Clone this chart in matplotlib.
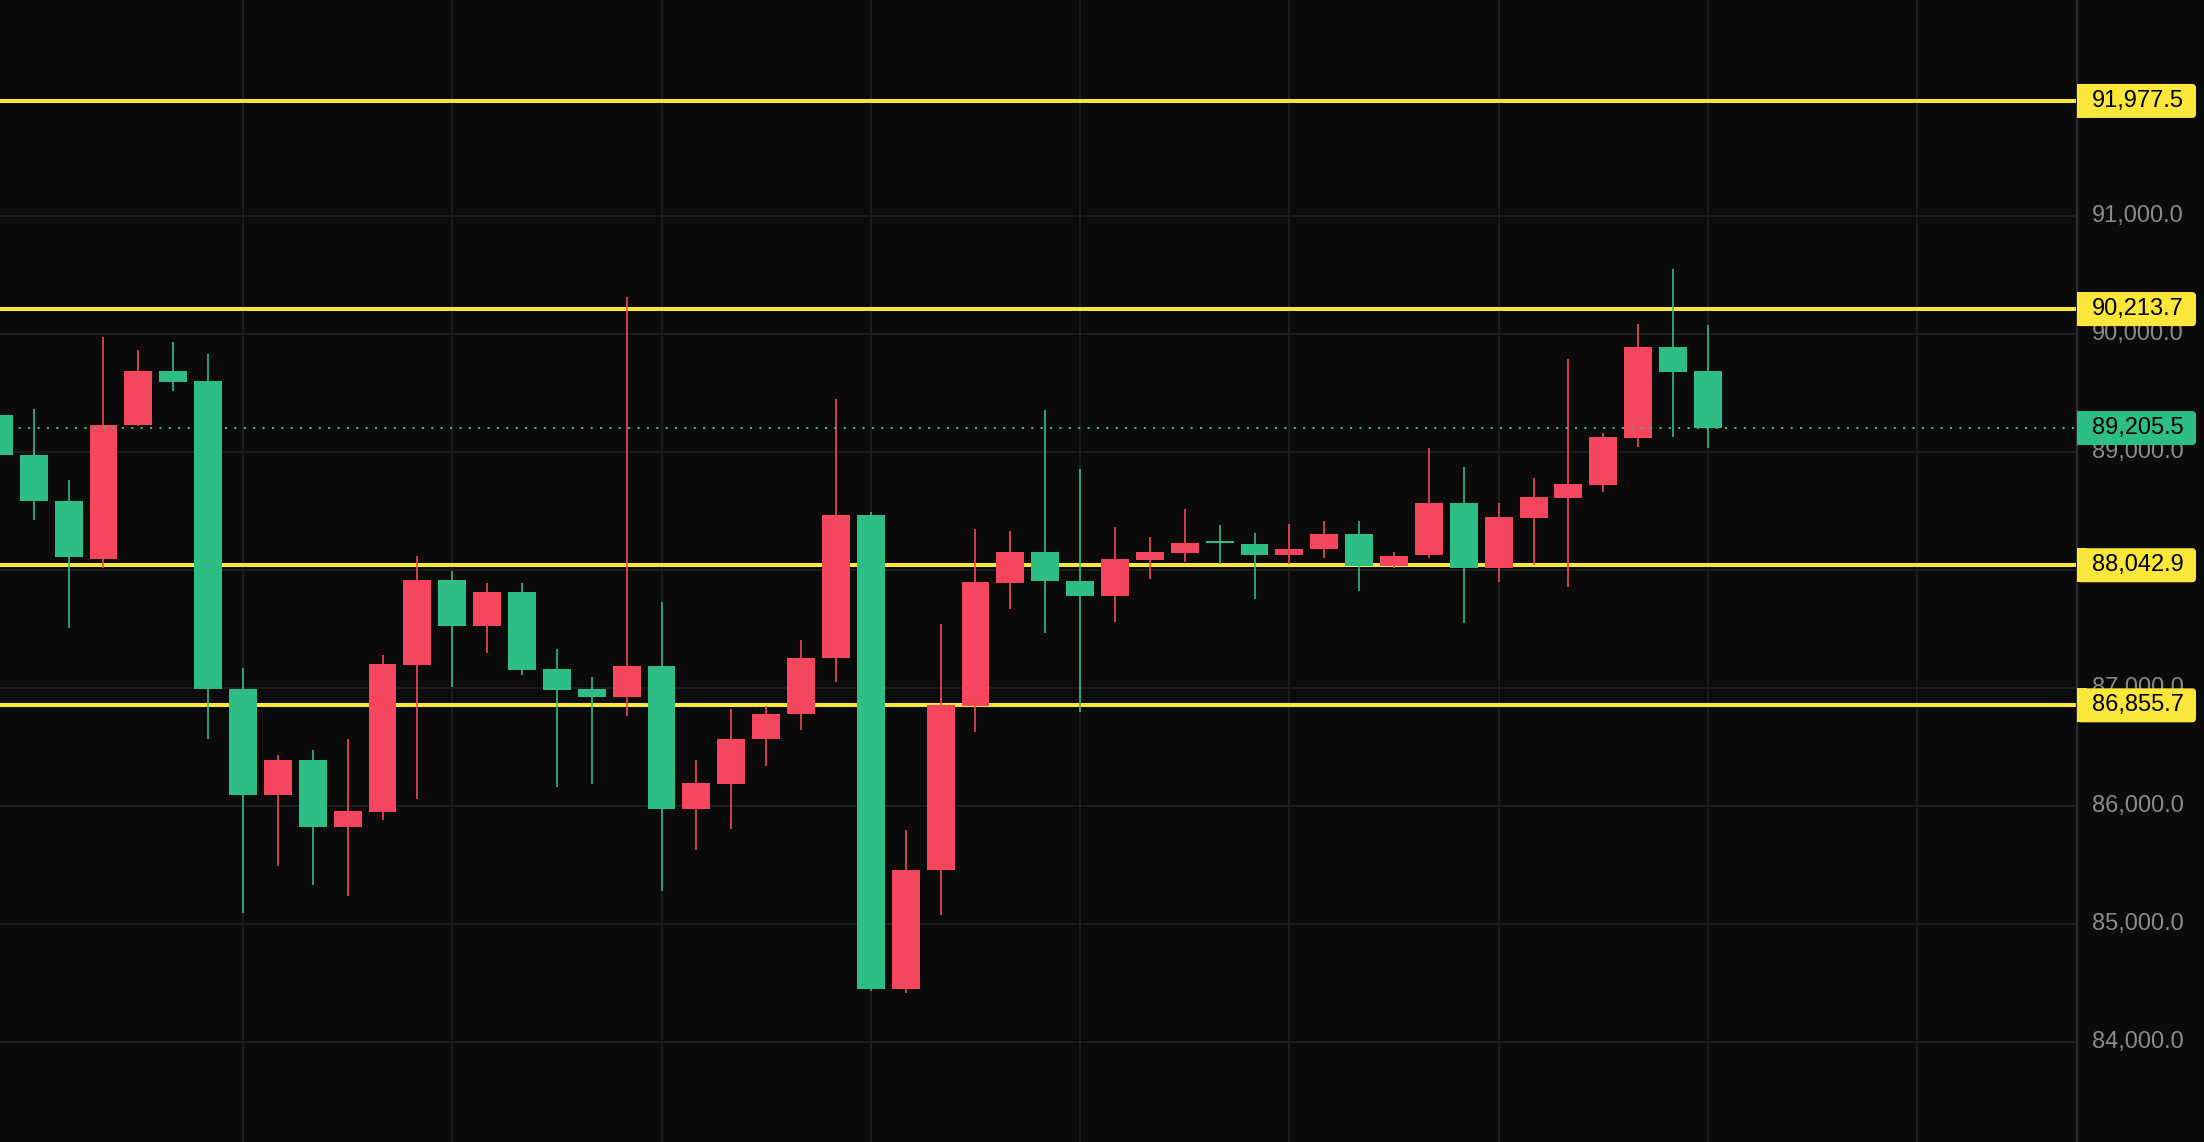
import matplotlib
matplotlib.use("Agg")
import matplotlib.pyplot as plt
from matplotlib.patches import FancyBboxPatch, Rectangle

plt.rcParams["font.family"] = ["Liberation Sans", "DejaVu Sans"]

# OHLC per candle (red = close above open, green = close below open)
opens = [89312, 88980, 88591, 88097, 89230, 89692, 89601, 86990, 86097, 86393,
         85824, 85954, 87201, 87919, 87525, 87817, 87165, 86993, 86922, 87190,
         85979, 86190, 86567, 86778, 87257, 88471, 84448, 85458, 86849, 87889,
         88157, 87912, 87779, 88090, 88150, 88236, 88224, 88126, 88177, 88307,
         88033, 88128, 88567, 88018, 88442, 88612, 88722, 89121, 89891, 89687]
highs = [89380, 89370, 88769, 89981, 89870, 89932, 89834, 87172, 86432, 86474,
         86571, 87282, 88123, 87993, 87894, 87894, 87334, 87095, 90319, 87732,
         86391, 86824, 86849, 87412, 89450, 88495, 85796, 87545, 88351, 88334,
         89357, 88856, 88367, 88284, 88521, 88384, 88317, 88394, 88417, 88417,
         88153, 89039, 88878, 88572, 88784, 89789, 89161, 90083, 90553, 90078]
lows = [88940, 88428, 87510, 88016, 89224, 89516, 86571, 85097, 85490, 85337,
        85237, 85880, 86058, 87007, 87296, 87113, 86162, 86190, 86764, 85279,
        85631, 85810, 86338, 86644, 87053, 84435, 84418, 85080, 86632, 87668,
        87468, 86799, 87558, 87923, 88073, 88053, 87755, 88056, 88100, 87822,
        88016, 88105, 87553, 87902, 88049, 87859, 88666, 89045, 89130, 89033]
closes = [88974, 88584, 88110, 89234, 89692, 89594, 86990, 86097, 86393, 85824,
          85961, 87208, 87919, 87525, 87817, 87158, 86989, 86922, 87190, 85979,
          86197, 86570, 86782, 87257, 88471, 84448, 85458, 86862, 87902, 88157,
          87906, 87779, 88096, 88157, 88233, 88229, 88126, 88180, 88307, 88036,
          88123, 88567, 88018, 88448, 88618, 88728, 89127, 89891, 89682, 89205.5]

levels = [91977.5, 90213.7, 88042.9, 86855.7]
last_price = 89205.5
price_ticks = [84000, 85000, 86000, 87000, 88000, 89000, 90000, 91000]
grid_candles = [7, 13, 19, 25, 31, 37, 43, 49, 55]

BG = "#0b0b0b"
RED = "#f6465d"
GREEN = "#2ebd85"
YELLOW = "#fbe73a"
GRID = "#1e1e1e"
LABEL = "#8a8a8a"

W, H, DPI = 2204, 1142, 100
PLOT_W = 2077
YMIN, YMAX = 83155, 92833
per_px = (YMAX - YMIN) / H

fig = plt.figure(figsize=(W / DPI, H / DPI), dpi=DPI, facecolor=BG)
ax = fig.add_axes([0, 0, PLOT_W / W, 1], facecolor=BG)
axr = fig.add_axes([PLOT_W / W, 0, 1 - PLOT_W / W, 1], facecolor=BG)

# candles
xs = list(range(len(opens)))
colors = [RED if c >= o else GREEN for o, c in zip(opens, closes)]
bottoms = [min(o, c) for o, c in zip(opens, closes)]
heights = [max(abs(c - o), 16) for o, c in zip(opens, closes)]

ax.vlines(xs, lows, highs, colors=colors, linewidth=1.2, zorder=3)
ax.bar(xs, heights, bottom=bottoms, width=0.8, color=colors, linewidth=0, zorder=3.5)

# support / resistance
for lv in levels:
    ax.axhline(lv, color=YELLOW, linewidth=2.9, zorder=2)
ax.axhline(last_price, color=GREEN, linewidth=1.5, linestyle=(0, (1, 3.5)), zorder=4)

ax.set_xlim(0.034, 59.58)
ax.set_ylim(YMIN, YMAX)
ax.set_xticks(grid_candles)
ax.set_yticks(price_ticks)
ax.grid(True, color=GRID, linewidth=1.3, zorder=0)
ax.set_axisbelow(True)
ax.tick_params(length=0, labelbottom=False, labelleft=False)
for s in ax.spines.values():
    s.set_visible(False)

# right price scale
axr.set_xlim(0, W - PLOT_W)
axr.set_ylim(YMIN, YMAX)
axr.set_xticks([])
axr.set_yticks([])
for name, s in axr.spines.items():
    s.set_visible(name == "left")
axr.spines["left"].set_color("#2c2c2c")
axr.spines["left"].set_linewidth(1.6)

for t in price_ticks:
    axr.text(61, t, f"{t:,.1f}", color=LABEL, fontsize=17, ha="center", va="center", zorder=2)

box_h = 34 * per_px


def price_tag(val, color):
    axr.add_patch(FancyBboxPatch((0, val - box_h / 2), 119, box_h,
                                 boxstyle="round,pad=0,rounding_size=4",
                                 mutation_aspect=per_px, facecolor=color,
                                 edgecolor="none", zorder=4, clip_on=False))
    axr.add_patch(Rectangle((0, val - box_h / 2), 10, box_h, facecolor=color,
                            edgecolor="none", zorder=4, clip_on=False))
    axr.text(61, val, f"{val:,.1f}", color="black", fontsize=17, ha="center", va="center", zorder=5)


for lv in levels:
    price_tag(lv, YELLOW)
price_tag(last_price, GREEN)

fig.savefig("out.png", dpi=DPI, facecolor=BG)
